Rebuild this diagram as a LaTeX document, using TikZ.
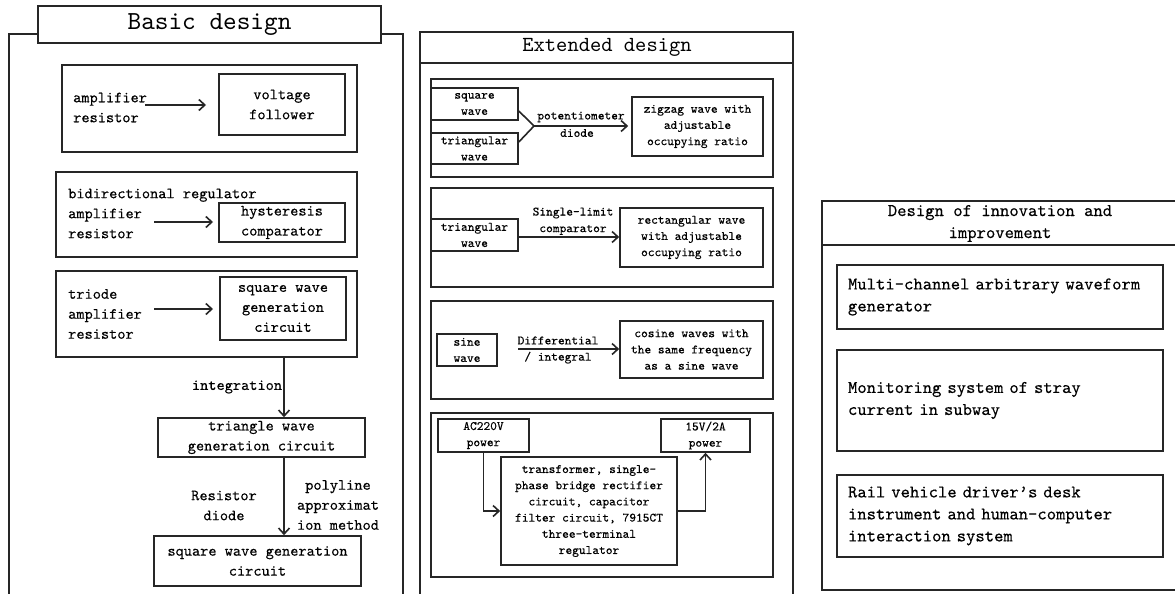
\documentclass[tikz,border=0pt]{standalone}
\usepackage{fontspec}
\setmonofont{lmmono10-regular.otf}[FakeBold=0.3]
\newfontfamily\titlefont{lmmono10-regular.otf}
\usetikzlibrary{arrows.meta,calc}
\newcommand\fsL{\fontsize{15.6}{20}\selectfont\ttfamily}
\newcommand\fsM{\fontsize{12.8}{16.2}\selectfont\ttfamily}
\newcommand\fsR{\fontsize{17.8}{22}\selectfont\ttfamily}
\newcommand\fsTa{\fontsize{26}{30}\selectfont\titlefont}
\newcommand\fsTb{\fontsize{21.5}{26}\selectfont\titlefont}
\tikzset{
  box/.style={draw=black!85, line width=1.6pt, inner sep=0pt, align=center},
  lbl/.style={inner sep=0pt, align=center},
  arr/.style={draw=black!85, line width=1.6pt, -{Straight Barb[length=6pt,width=11pt]}},
  panel/.style={draw=black!85, line width=1.6pt},
}
\begin{document}
\begin{tikzpicture}[x=1pt,y=-1pt]
\fill[white] (0,0) rectangle (1175,594);
\clip (0,0) rectangle (1175,594);

% ================= Basic design =================
\draw[panel] (38,34) -- (9,34) -- (9,600);
\draw[panel] (381,34) -- (403,34) -- (403,600);
\node[box, fill=white, font=\fsTa, minimum width=343pt, minimum height=37pt] (tA) at (209.5,24.5) {Basic design};

\node[box, minimum width=295pt, minimum height=87pt] (L1) at (209.5,108.5) {};
\node[box, font=\fsL, minimum width=126pt, minimum height=61pt] (vf) at (282,104.5) {voltage\\follower};
\node[lbl, font=\fsL, anchor=west, align=left] (t1) at (73,107.5) {amplifier\\resistor};
\coordinate (a1s) at (145,105);
\coordinate (a1e) at (206,105);
\draw[arr] (a1s) -- (a1e);

\node[box, minimum width=301pt, minimum height=85pt] (L2) at (206.5,214.5) {};
\node[box, font=\fsL, minimum width=126pt, minimum height=39pt] (hy) at (282,222.5) {hysteresis\\comparator};
\node[lbl, font=\fsL, anchor=west, align=left] (t2) at (68,213.5) {bidirectional regulator\\amplifier\\resistor};
\coordinate (a2s) at (154,222);
\coordinate (a2e) at (213,222);
\draw[arr] (a2s) -- (a2e);

\node[box, minimum width=301pt, minimum height=86pt] (L3) at (206.5,314) {};
\node[box, font=\fsL, minimum width=126pt, minimum height=63pt] (sq) at (283,308.5) {square wave\\generation\\circuit};
\node[lbl, font=\fsL, anchor=west, align=left] (t3) at (68,314) {triode\\amplifier\\resistor};
\coordinate (a3s) at (154,309);
\coordinate (a3e) at (213,309);
\draw[arr] (a3s) -- (a3e);

\node[box, font=\fsL, minimum width=207pt, minimum height=39pt] (tri) at (261.5,437.5) {triangle wave\\generation circuit};
\node[box, font=\fsL, minimum width=207pt, minimum height=50pt] (sqb) at (257.5,561) {square wave generation\\circuit};
\coordinate (v1) at (284,357);
\draw[arr] (v1) -- (v1 |- tri.north);
\node[lbl, font=\fsL] (lint) at (237,387) {integration};
\coordinate (v2) at (284,457);
\draw[arr] (v2) -- (v2 |- sqb.north);
\node[lbl, font=\fsL] (lrd) at (224,505.5) {Resistor\\diode};
\node[lbl, font=\fsL] (lpa) at (338,505) {polyline\\approximat\\ion method};

% ================= Extended design =================
\draw[panel] (420,600) -- (420,32) -- (793,32) -- (793,600);
\draw[panel] (420,63) -- (793,63);
\node[lbl, font=\fsTb] (tB) at (607,47) {Extended design};

\node[box, minimum width=342pt, minimum height=98pt] (M1) at (602,128) {};
\node[box, font=\fsM, minimum width=87pt, minimum height=32pt] (sqw) at (474.5,104) {square\\wave};
\node[box, font=\fsM, minimum width=87pt, minimum height=31pt] (triw) at (474.5,148.5) {triangular\\wave};
\node[box, font=\fsM, minimum width=131pt, minimum height=59pt] (zig) at (697.5,126.5) {zigzag wave with\\adjustable\\occupying ratio};
\coordinate (j1) at (534,126);
\draw[panel] ($(sqw.east)+(0,7)$) -- (j1) -- ($(triw.east)+(0,-6.5)$);
\draw[arr, shorten >=3pt] (j1) -- (j1 -| zig.west);
\node[lbl, font=\fsM] (lpot) at (581,117) {potentiometer};
\node[lbl, font=\fsM] (ldio) at (577,133) {diode};

\node[box, minimum width=342pt, minimum height=99pt] (M2) at (602,237.5) {};
\node[box, font=\fsM, minimum width=87pt, minimum height=32pt] (tri2) at (474.5,235) {triangular\\wave};
\node[box, font=\fsM, minimum width=143pt, minimum height=59pt] (rect) at (691.5,237.5) {rectangular wave\\with adjustable\\occupying ratio};
\coordinate (m2s) at (518,237);
\draw[arr] (m2s) -- (m2s -| rect.west);
\node[lbl, font=\fsM] (lsl) at (573,213) {Single-limit};
\node[lbl, font=\fsM] (lcmp) at (573,230) {comparator};

\node[box, minimum width=342pt, minimum height=98pt] (M3) at (602,350) {};
\node[box, font=\fsM, minimum width=60pt, minimum height=32pt] (sine) at (467,350) {sine\\wave};
\node[box, font=\fsM, minimum width=143pt, minimum height=57pt] (cos) at (691.5,349.5) {cosine waves with\\the same frequency\\as a sine wave};
\coordinate (m3s) at (518,349);
\draw[arr] (m3s) -- (m3s -| cos.west);
\node[lbl, font=\fsM] (ldif) at (558,350) {Differential\\/ integral};

\node[box, minimum width=342pt, minimum height=164pt] (M4) at (602,495) {};
\node[box, font=\fsM, minimum width=91pt, minimum height=33pt] (ac) at (483.5,435.5) {AC220V\\power};
\node[box, font=\fsM, minimum width=89pt, minimum height=33pt] (vo) at (705.5,435.5) {15V/2A\\power};
\node[box, font=\fsM, minimum width=176pt, minimum height=108pt] (big) at (589,511) {transformer, single-\\phase bridge rectifier\\circuit, capacitor\\filter circuit, 7915CT\\three-terminal\\regulator};
\draw[arr] (ac.south) |- (big.west);
\draw[arr] (big.east) -| (vo.south);

% ================= Innovation =================
\draw[panel] (1185,201) -- (822,201) -- (822,590) -- (1185,590);
\draw[panel] (822,245) -- (1185,245);
\node[lbl, font=\fsR] (tC) at (1000,223.5) {Design of innovation and\\improvement};

\node[box, font=\fsR, align=left, text width=304pt, inner xsep=11pt, minimum height=64pt] (r1) at (1000,297) {Multi-channel arbitrary waveform\\generator};
\node[box, font=\fsR, align=left, text width=304pt, inner xsep=11pt, minimum height=101pt] (r2) at (1000,400.5) {Monitoring system of stray\\current in subway};
\node[box, font=\fsR, align=left, text width=304pt, inner xsep=11pt, minimum height=82pt] (r3) at (1000,516) {Rail vehicle driver’s desk\\instrument and human-computer\\interaction system};
\end{tikzpicture}
\end{document}
